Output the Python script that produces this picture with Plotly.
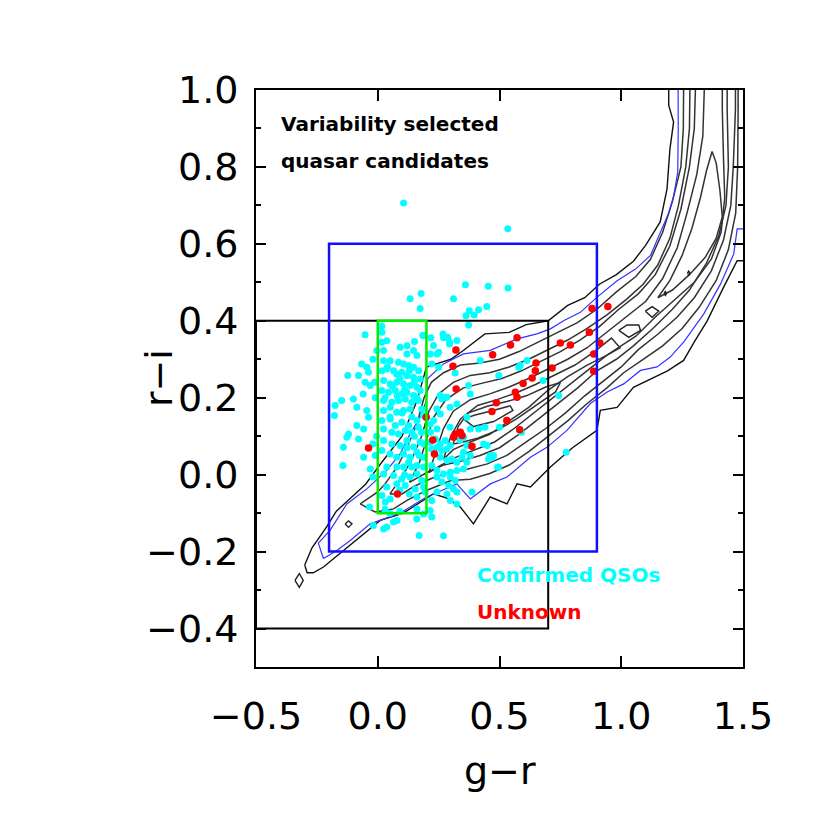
import plotly.graph_objects as go

# ---- data ----
qso_points = [
    (0.106, 0.706), (0.534, 0.639), (0.36, 0.494), (0.454, 0.49), (0.535, 0.485), (0.178, 0.471),
    (0.133, 0.457), (0.311, 0.457), (0.174, 0.432), (0.448, 0.437), (0.414, 0.429), (0.376, 0.426),
    (0.396, 0.415), (0.362, 0.413), (0.373, 0.389), (-0.052, 0.364), (0.017, 0.386), (0.185, 0.362),
    (0.218, 0.356), (0.27, 0.356), (0.287, 0.357), (0.295, 0.34), (0.25, 0.318),
    (-0.004, 0.323), (-0.066, 0.288), (-0.045, 0.279), (-0.123, 0.258), (-0.079, 0.258), (-0.038, 0.266),
    (-0.031, 0.232), (-0.052, 0.24), (-0.013, 0.24), (-0.1, 0.197), (-0.148, 0.193), (-0.175, 0.18),
    (-0.086, 0.175), (-0.178, 0.154), (-0.045, 0.167), (-0.038, 0.149), (-0.086, 0.128), (-0.058, 0.119),
    (-0.12, 0.106), (-0.127, 0.097), (-0.079, 0.093), (-0.141, 0.071), (-0.02, 0.08), (-0.143, 0.024),
    (-0.058, 0.045), (-0.031, 0.015), (-0.02, -0.006), (-0.034, -0.084), (-0.018, -0.132), (0.024, -0.141),
    (0.037, -0.136), (0.065, -0.123), (0.079, -0.119), (0.17, -0.158), (0.27, -0.159),
    (-0.01, 0.2), (-0.005, 0.1), (-0.01, 0.05), (-0.06, 0.21), (-0.02, 0.3),
    (0.017, 0.37), (0.017, 0.344), (0.037, 0.348), (0.188, 0.362),
    (0.024, 0.323), (0.092, 0.331), (0.12, 0.335), (0.151, 0.346), (0.12, 0.314), (0.147, 0.323), (0.161, 0.31),
    (0.024, 0.296), (0.051, 0.296), (0.085, 0.292), (0.106, 0.288), (0.127, 0.284), (0.147, 0.279), (0.168, 0.27),
    (0.017, 0.27), (0.037, 0.275), (0.065, 0.27), (0.078, 0.262), (0.099, 0.266), (0.12, 0.257), (0.147, 0.253),
    (0.175, 0.249), (0.024, 0.245), (0.051, 0.236), (0.078, 0.24), (0.106, 0.236), (0.133, 0.232), (0.161, 0.227),
    (0.017, 0.219), (0.044, 0.214), (0.072, 0.219), (0.099, 0.21), (0.12, 0.214), (0.147, 0.206), (0.174, 0.219),
    (0.024, 0.193), (0.058, 0.188), (0.085, 0.193), (0.113, 0.197), (0.14, 0.188), (0.167, 0.193),
    (0.024, 0.167), (0.051, 0.175), (0.078, 0.162), (0.106, 0.167), (0.133, 0.171), (0.181, 0.171),
    (0.017, 0.141), (0.051, 0.145), (0.072, 0.128), (0.099, 0.136), (0.127, 0.128), (0.161, 0.141), (0.188, 0.154),
    (0.024, 0.119), (0.058, 0.11), (0.085, 0.106), (0.113, 0.115), (0.14, 0.11), (0.167, 0.123),
    (0.024, 0.089), (0.058, 0.08), (0.092, 0.076), (0.12, 0.089), (0.147, 0.072), (0.174, 0.085),
    (0.017, 0.063), (0.051, 0.054), (0.078, 0.045), (0.106, 0.054), (0.133, 0.045), (0.161, 0.058), (0.188, 0.045),
    (0.037, 0.02), (0.078, 0.02), (0.106, 0.02), (0.127, 0.032), (0.161, 0.024), (0.188, 0.02),
    (0.024, 0.002), (0.065, -0.002), (0.099, -0.011), (0.133, -0.006), (0.161, 0.002), (0.181, -0.015),
    (0.037, -0.032), (0.078, -0.024), (0.113, -0.028), (0.154, -0.037), (0.188, -0.032),
    (0.017, -0.054), (0.051, -0.063), (0.161, -0.058), (0.195, -0.045), (0.031, -0.071), (0.161, -0.089),
    (0.03, -0.09), (0.04, 0.28), (0.09, 0.25), (0.13, 0.27), (0.06, 0.23), (0.11, 0.22), (0.15, 0.24),
    (0.03, 0.2), (0.08, 0.205), (0.16, 0.2), (0.05, 0.15), (0.1, 0.16), (0.14, 0.15), (0.12, 0.07),
    (0.15, 0.1), (0.18, 0.11), (0.11, 0.0), (0.14, 0.02), (0.17, 0.05), (0.19, 0.08), (0.13, -0.05),
    (0.09, -0.04), (0.05, -0.1), (0.09, -0.095),
    (0.222, 0.288), (0.295, 0.344), (0.268, 0.366), (0.216, 0.314), (0.229, 0.336), (0.243, 0.314),
    (0.25, 0.279), (0.325, 0.349), (0.256, 0.206), (0.277, 0.201), (0.243, 0.171), (0.257, 0.158),
    (0.263, 0.197), (0.284, 0.201), (0.297, 0.175), (0.325, 0.184), (0.216, 0.132), (0.229, 0.141),
    (0.243, 0.119), (0.216, 0.11), (0.297, 0.123), (0.338, 0.09), (0.352, 0.097), (0.366, 0.149),
    (0.38, 0.119), (0.414, 0.119), (0.44, 0.123), (0.5, 0.123), (0.435, 0.08), (0.449, 0.076),
    (0.462, 0.05), (0.476, 0.05), (0.496, 0.02), (0.366, 0.076), (0.352, 0.058), (0.38, 0.05),
    (0.215, 0.084), (0.236, 0.093), (0.257, 0.08), (0.277, 0.089), (0.298, 0.076), (0.284, 0.067),
    (0.263, 0.063), (0.243, 0.071), (0.222, 0.067), (0.257, 0.045), (0.284, 0.037), (0.304, 0.041),
    (0.325, 0.032), (0.346, 0.045), (0.366, 0.032), (0.352, 0.015), (0.325, 0.011), (0.298, 0.006),
    (0.222, 0.024), (0.243, 0.011), (0.27, 0.002), (0.298, -0.006), (0.318, -0.015), (0.291, -0.028),
    (0.263, -0.019), (0.243, -0.006), (0.311, -0.037), (0.325, -0.045), (0.284, -0.05), (0.298, -0.067),
    (0.325, -0.076), (0.222, -0.067), (0.243, -0.045), (0.215, -0.093), (0.222, -0.11), (0.16, -0.115),
    (0.188, -0.102), (0.387, -0.045), (0.421, 0.297), (0.579, 0.279), (0.613, 0.297), (0.497, 0.258),
    (0.679, 0.245), (0.743, 0.206), (0.59, 0.11), (0.38, 0.21), (0.373, 0.232), (0.774, 0.058),
    (0.585, 0.284), (0.318, 0.264), (0.469, 0.045), (0.455, 0.041), (0.492, 0.019),
]

unknown_points = [
    (0.88, 0.432), (0.945, 0.437), (0.869, 0.37), (0.912, 0.342), (0.75, 0.342), (0.791, 0.337),
    (0.572, 0.356), (0.545, 0.337), (0.472, 0.312), (0.321, 0.324), (0.309, 0.282), (0.887, 0.314),
    (0.65, 0.29), (0.716, 0.277), (0.887, 0.269), (0.647, 0.27), (0.634, 0.251), (0.322, 0.223),
    (0.597, 0.237), (0.565, 0.214), (0.572, 0.201), (0.487, 0.187), (0.469, 0.164), (0.53, 0.141),
    (0.583, 0.117), (0.387, 0.074), (0.312, 0.097), (0.339, 0.11), (0.346, 0.102), (0.318, 0.106),
    (0.226, 0.09), (0.233, 0.054), (-0.038, 0.069), (0.081, -0.05), (0.199, 0.149),
]

# stellar locus density contours (outermost first)
contour_outer = [
    (-0.3, -0.235), (-0.27, -0.19), (-0.21, -0.136), (-0.17, -0.095), (-0.11, -0.06), (-0.05, -0.025),
    (0.02, 0.035), (0.1, 0.1), (0.16, 0.19), (0.2, 0.28), (0.25, 0.29), (0.3, 0.3), (0.35, 0.322),
    (0.44, 0.366), (0.54, 0.37), (0.61, 0.39), (0.7, 0.4), (0.78, 0.44), (0.85, 0.46), (0.91, 0.495),
    (0.98, 0.52), (1.05, 0.555), (1.1, 0.596), (1.16, 0.657), (1.188, 0.743), (1.2, 0.847), (1.215, 0.917),
    (1.195, 0.96), (1.195, 1.1), (1.6, 1.1), (1.6, 0.556), (1.476, 0.556), (1.42, 0.487), (1.353, 0.4),
    (1.3, 0.345), (1.256, 0.297), (1.19, 0.27), (1.133, 0.253), (1.05, 0.227), (0.983, 0.175),
    (0.914, 0.167), (0.9, 0.115), (0.8, 0.07), (0.709, 0.02), (0.627, -0.032), (0.572, -0.024),
    (0.531, -0.076), (0.462, -0.058), (0.393, -0.128), (0.339, -0.084), (0.28, -0.06), (0.228, -0.05),
    (0.105, -0.1), (0.01, -0.119), (-0.072, -0.162), (-0.142, -0.197), (-0.223, -0.24), (-0.265, -0.255),
    (-0.29, -0.255), (-0.3, -0.235),
]
contour_blue = [
    (-0.223, -0.218), (-0.244, -0.178), (-0.196, -0.145), (-0.127, -0.076), (-0.045, -0.037), (0.037, 0.011),
    (0.092, 0.054), (0.133, 0.106), (0.174, 0.149), (0.2, 0.193), (0.205, 0.25), (0.27, 0.288),
    (0.352, 0.314), (0.462, 0.323), (0.572, 0.353), (0.654, 0.366), (0.709, 0.379), (0.763, 0.4),
    (0.832, 0.422), (0.9, 0.461), (0.983, 0.504), (1.06, 0.535), (1.12, 0.57), (1.16, 0.63), (1.195, 0.68),
    (1.216, 0.726), (1.232, 0.787), (1.234, 0.894), (1.233, 1.1), (1.6, 1.1), (1.6, 0.639), (1.476, 0.639),
    (1.462, 0.574), (1.408, 0.496), (1.339, 0.418), (1.257, 0.345), (1.2, 0.305), (1.147, 0.28),
    (1.079, 0.271), (1.01, 0.236), (0.942, 0.215), (0.873, 0.185), (0.777, 0.115), (0.695, 0.071),
    (0.627, 0.045), (0.531, -0.006), (0.462, -0.024), (0.38, -0.063), (0.325, -0.024), (0.2, -0.058),
    (0.092, -0.1), (-0.031, -0.128), (-0.113, -0.171), (-0.168, -0.197), (-0.223, -0.218),
]
contour_3 = [
    (-0.072, -0.076), (0.0, -0.045), (0.03, -0.024), (0.08, 0.02), (0.12, 0.07), (0.16, 0.13), (0.19, 0.2),
    (0.22, 0.24), (0.27, 0.265), (0.34, 0.285), (0.42, 0.29), (0.5, 0.3), (0.58, 0.32), (0.66, 0.345),
    (0.74, 0.37), (0.82, 0.395), (0.9, 0.43), (0.98, 0.475), (1.06, 0.515), (1.12, 0.56), (1.17, 0.63),
    (1.21, 0.71), (1.245, 0.8), (1.255, 0.9), (1.257, 1.1), (1.48, 1.1), (1.48, 0.95), (1.478, 0.8),
    (1.47, 0.68), (1.44, 0.585), (1.39, 0.505), (1.32, 0.435), (1.25, 0.38), (1.17, 0.335), (1.09, 0.3),
    (1.01, 0.265), (0.94, 0.225), (0.86, 0.185), (0.78, 0.14), (0.7, 0.1), (0.62, 0.06), (0.54, 0.025),
    (0.46, 0.003), (0.38, -0.012), (0.3, -0.015), (0.2, -0.041), (0.12, -0.067), (0.065, -0.089),
    (-0.011, -0.097), (-0.072, -0.076),
]
contour_4 = [
    (0.05, -0.05), (0.1, -0.005), (0.14, 0.04), (0.18, 0.1), (0.21, 0.165), (0.25, 0.21), (0.31, 0.24),
    (0.38, 0.258), (0.46, 0.265), (0.54, 0.28), (0.62, 0.3), (0.7, 0.325), (0.78, 0.35), (0.86, 0.38),
    (0.94, 0.415), (1.02, 0.455), (1.09, 0.495), (1.15, 0.545), (1.2, 0.615), (1.235, 0.7), (1.265, 0.8),
    (1.28, 0.9), (1.284, 1.1), (1.469, 1.1), (1.469, 0.95), (1.46, 0.8), (1.45, 0.7), (1.42, 0.61),
    (1.37, 0.53), (1.3, 0.46), (1.23, 0.41), (1.15, 0.365), (1.07, 0.325), (1.0, 0.28), (0.93, 0.245),
    (0.85, 0.205), (0.77, 0.16), (0.69, 0.12), (0.61, 0.085), (0.53, 0.05), (0.45, 0.028), (0.37, 0.015),
    (0.29, 0.005), (0.22, -0.01), (0.15, -0.03), (0.1, -0.05), (0.05, -0.05),
]
contour_5 = [
    (0.13, -0.02), (0.17, 0.03), (0.2, 0.09), (0.23, 0.15), (0.28, 0.195), (0.35, 0.225), (0.43, 0.238),
    (0.51, 0.25), (0.59, 0.27), (0.67, 0.295), (0.75, 0.32), (0.83, 0.35), (0.91, 0.385), (0.99, 0.43),
    (1.07, 0.47), (1.14, 0.52), (1.2, 0.595), (1.245, 0.69), (1.28, 0.8), (1.3, 0.9), (1.309, 1.1),
    (1.435, 1.1), (1.435, 0.95), (1.44, 0.8), (1.43, 0.7), (1.4, 0.62), (1.35, 0.55), (1.28, 0.48),
    (1.21, 0.43), (1.13, 0.38), (1.05, 0.335), (0.98, 0.3), (0.9, 0.27), (0.82, 0.225), (0.74, 0.185),
    (0.66, 0.145), (0.58, 0.105), (0.5, 0.07), (0.42, 0.05), (0.34, 0.035), (0.27, 0.025), (0.2, 0.005),
    (0.13, -0.02),
]
contour_6 = [
    (0.21, 0.005), (0.24, 0.06), (0.27, 0.12), (0.31, 0.165), (0.38, 0.195), (0.46, 0.21), (0.54, 0.228),
    (0.62, 0.25), (0.7, 0.275), (0.78, 0.3), (0.86, 0.33), (0.94, 0.37), (1.02, 0.41), (1.1, 0.45),
    (1.17, 0.51), (1.23, 0.59), (1.27, 0.68), (1.31, 0.78), (1.335, 0.88), (1.346, 1.1), (1.415, 1.1),
    (1.415, 0.95), (1.42, 0.82), (1.425, 0.72), (1.41, 0.63), (1.37, 0.56), (1.3, 0.5), (1.22, 0.455),
    (1.14, 0.41), (1.06, 0.36), (1.0, 0.335), (0.94, 0.31), (0.88, 0.28), (0.8, 0.24), (0.72, 0.2),
    (0.64, 0.16), (0.56, 0.12), (0.48, 0.085), (0.4, 0.065), (0.32, 0.045), (0.26, 0.025), (0.21, 0.005),
]
contour_tongue = [
    (1.15, 0.46), (1.2, 0.505), (1.25, 0.57), (1.29, 0.64), (1.325, 0.72), (1.35, 0.79), (1.373, 0.84),
    (1.39, 0.81), (1.405, 0.74), (1.415, 0.67), (1.39, 0.615), (1.345, 0.565), (1.28, 0.52), (1.21, 0.48),
    (1.15, 0.46),
]
contour_peak_1 = [
    (0.27, 0.04), (0.3, 0.1), (0.34, 0.145), (0.41, 0.18), (0.49, 0.195), (0.57, 0.213), (0.65, 0.235),
    (0.73, 0.26), (0.81, 0.285), (0.89, 0.32), (0.96, 0.355), (0.995, 0.33), (0.94, 0.31), (0.86, 0.285),
    (0.78, 0.255), (0.7, 0.22), (0.62, 0.175), (0.54, 0.14), (0.46, 0.105), (0.38, 0.085), (0.31, 0.065),
    (0.27, 0.04),
]
contour_peak_2 = [
    (0.31, 0.08), (0.33, 0.125), (0.37, 0.16), (0.45, 0.178), (0.53, 0.19), (0.61, 0.205), (0.69, 0.228),
    (0.75, 0.24), (0.73, 0.215), (0.65, 0.18), (0.57, 0.145), (0.49, 0.115), (0.41, 0.095), (0.35, 0.085),
    (0.31, 0.08),
]
contour_peak_3 = [
    (0.352, 0.145), (0.4, 0.155), (0.47, 0.166), (0.544, 0.179), (0.555, 0.167), (0.476, 0.138),
    (0.393, 0.125), (0.352, 0.145),
]
contour_islands = [
    [(-0.34, -0.275), (-0.322, -0.257), (-0.306, -0.275), (-0.322, -0.293), (-0.34, -0.275)],
    [(-0.134, -0.128), (-0.12, -0.12), (-0.106, -0.128), (-0.12, -0.137), (-0.134, -0.128)],
    [(0.99, 0.375), (1.024, 0.389), (1.072, 0.389), (1.079, 0.375), (1.031, 0.357), (0.99, 0.375)],
    [(1.099, 0.425), (1.127, 0.437), (1.154, 0.425), (1.127, 0.409), (1.099, 0.425)],
    [(1.176, 0.471), (1.181, 0.476), (1.186, 0.471), (1.181, 0.466), (1.176, 0.471)],
    [(1.272, 0.524), (1.277, 0.529), (1.282, 0.524), (1.277, 0.519), (1.272, 0.524)],
]

# selection boxes: (g-r min, g-r max, r-i min, r-i max)
box_black = (-0.5, 0.7, -0.4, 0.4)
box_blue = (-0.2, 0.9, -0.2, 0.6)
box_green = (0.0, 0.2, -0.1, 0.4)

x_ticks = [-0.5, 0.0, 0.5, 1.0, 1.5]
y_ticks = [-0.4, -0.2, 0.0, 0.2, 0.4, 0.6, 0.8, 1.0]

FONT = "DejaVu Sans"

fig = go.Figure()


def add_line(points, color, width):
    fig.add_trace(go.Scatter(x=[p[0] for p in points], y=[p[1] for p in points],
                             mode="lines", line=dict(color=color, width=width),
                             hoverinfo="skip", showlegend=False))


add_line(contour_outer, "#111111", 1.4)
for c in [contour_3, contour_4, contour_5, contour_6, contour_tongue,
          contour_peak_1, contour_peak_2, contour_peak_3]:
    add_line(c, "#333333", 1.5)
for c in contour_islands:
    add_line(c, "#222222", 1.4)
add_line(contour_blue, "#3333ff", 1.2)

fig.add_trace(go.Scatter(x=[p[0] for p in qso_points], y=[p[1] for p in qso_points],
                         mode="markers", marker=dict(color="#00ffff", size=7),
                         name="Confirmed QSOs", showlegend=False))
fig.add_trace(go.Scatter(x=[p[0] for p in unknown_points], y=[p[1] for p in unknown_points],
                         mode="markers", marker=dict(color="#ff0000", size=7.5),
                         name="Unknown", showlegend=False))

for box, color, width in [(box_black, "black", 2), (box_blue, "#1010ff", 2.5), (box_green, "#00ee00", 2.5)]:
    fig.add_shape(type="rect", xref="x", yref="y", x0=box[0], x1=box[1], y0=box[2], y1=box[3],
                  line=dict(color=color, width=width), layer="above")

label_font = dict(family=FONT, size=20, color="black", weight="bold")
fig.add_annotation(x=-0.405, y=0.912, xref="x", yref="y", text="Variability selected",
                   showarrow=False, xanchor="left", yanchor="middle", font=label_font)
fig.add_annotation(x=-0.405, y=0.816, xref="x", yref="y", text="quasar candidates",
                   showarrow=False, xanchor="left", yanchor="middle", font=label_font)
fig.add_annotation(x=0.4, y=-0.262, xref="x", yref="y", text="Confirmed QSOs",
                   showarrow=False, xanchor="left", yanchor="middle",
                   font=dict(label_font, color="#00ffff"))
fig.add_annotation(x=0.4, y=-0.358, xref="x", yref="y", text="Unknown",
                   showarrow=False, xanchor="left", yanchor="middle",
                   font=dict(label_font, color="#ff0000"))

# axis titles
fig.add_annotation(x=0.5, y=-0.18, xref="paper", yref="paper", text="g\u2212r",
                   showarrow=False, xanchor="center", yanchor="middle",
                   font=dict(family=FONT, size=38, color="black"))
fig.add_annotation(x=-0.2, y=0.5, xref="paper", yref="paper", text="r\u2212i", textangle=-90,
                   showarrow=False, xanchor="center", yanchor="middle",
                   font=dict(family=FONT, size=38, color="black"))

fig.update_xaxes(range=[-0.5, 1.5], tickvals=x_ticks, tickformat=".1f",
                 ticks="inside", ticklen=11, tickwidth=1.5, tickcolor="black",
                 showline=True, linewidth=2, linecolor="black", mirror="ticks",
                 showgrid=False, zeroline=False, ticklabelstandoff=14,
                 tickfont=dict(family=FONT, size=38, color="black"))
fig.update_yaxes(range=[-0.5, 1.0], tickvals=y_ticks, tickformat=".1f",
                 ticks="inside", ticklen=10, tickwidth=1.5, tickcolor="black",
                 showline=True, linewidth=2, linecolor="black", mirror="ticks",
                 showgrid=False, zeroline=False, ticklabelstandoff=8,
                 minor=dict(dtick=0.1, tick0=0.0, ticks="inside", ticklen=5, tickcolor="black", tickwidth=1.5),
                 tickfont=dict(family=FONT, size=38, color="black"))

# the page adds an 8 px body margin, so the margins are shifted to keep the plot frame in place
fig.update_layout(width=830, height=830, margin=dict(l=248, r=95, t=82, b=171),
                  plot_bgcolor="white", paper_bgcolor="white", showlegend=False)

fig.write_html("out.html")
